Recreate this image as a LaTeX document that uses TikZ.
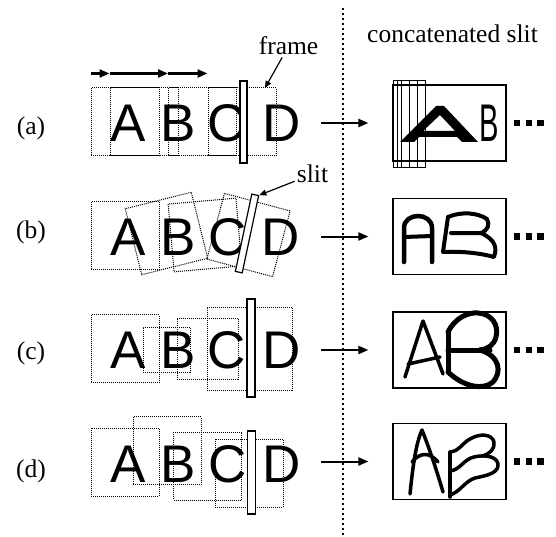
\documentclass[tikz,border=0pt]{standalone}
\usepackage{fontspec}
\setmainfont{Liberation Serif}
\newfontfamily\glyphfont{Liberation Sans}
\usetikzlibrary{arrows.meta}

\begin{document}
\begin{tikzpicture}[
  x=1pt, y=-1pt,
  frame/.style={draw, line width=1pt, dash pattern=on 1pt off 1pt, minimum width=68pt, minimum height=68pt, inner sep=0pt},
  slitbox/.style={draw, fill=white, line width=1.2pt, minimum width=7pt, minimum height=#1, inner sep=0pt},
  glyph/.style={font=\glyphfont\fontsize{53}{60}\selectfont, inner sep=0pt, anchor=base},
  tag/.style={font=\fontsize{25.5}{30}\selectfont, inner sep=2pt, anchor=base},
  resbox/.style={draw, line width=1.2pt, minimum width=113pt, minimum height=76pt, inner sep=0pt},
  flow/.style={line width=2pt, -{Triangle[length=10pt,width=8pt]}},
  motion/.style={line width=2.2pt, -{Triangle[length=10pt,width=8pt]}},
  pointer/.style={line width=1.2pt, -{Triangle[length=7pt,width=6pt]}},
  divider/.style={line width=2pt, dash pattern=on 2.2pt off 2.8pt},
  ink/.style={line width=#1, line cap=round, line join=round},
  ink/.default=4pt,
  dotsq/.style={fill, minimum size=6.5pt, inner sep=0pt}
]
\useasboundingbox (0,0) rectangle (556,537);

% === Row labels and header ===
\node[tag] (la) at (31,135) {(a)};
\node[tag] (lb) at (31,238) {(b)};
\node[tag] (lc) at (31,359) {(c)};
\node[tag] (ld) at (31,477) {(d)};
\node[tag] (hdr) at (452.5,43) {concatenated slit};

% === Divider ===
\coordinate (divtop) at (343,8);
\coordinate (divbot) at (343,535);
\draw[divider] (divtop) -- (divbot);

% === (a) pure translation ===
\node[frame] (a1) at (125,122) {};
\node[frame] (a2) at (144,122) {};
\node[frame] (a3) at (202.5,122) {};
\node[frame] (a4) at (242,122) {};
\draw[motion] ([yshift=14pt]a1.north west) -- ([yshift=14pt]a2.north west);
\draw[motion] ([yshift=14pt]a2.north west) -- ([yshift=14pt]a3.north west);
\draw[motion] ([yshift=14pt]a3.north west) -- ([yshift=14pt]a4.north west);
\node[glyph] (Aa) at (128,142) {A};
\node[glyph] (Ba) at (178,142) {B};
\node[glyph] (Ca) at (227,142) {C};
\node[glyph] (Da) at (282,142) {D};
\node[slitbox=82pt] (sa) at (243.5,122) {};
\node[tag] (framelbl) at (288.5,55) {frame};
\coordinate (frametip) at (265,88);
\draw[pointer] (framelbl) -- (frametip);

% === (b) rotation ===
\node[frame] (b1) at (125,235.5) {};
\node[frame, rotate=14] (b2) at (166.5,233.5) {};
\node[frame, rotate=5] (b3) at (205,235) {};
\node[frame, rotate=-15] (b4) at (248.5,235) {};
\node[glyph] (Ab) at (128,255) {A};
\node[glyph] (Bb) at (178,255) {B};
\node[glyph] (Cb) at (228,255) {C};
\node[glyph] (Db) at (281,255) {D};
\node[slitbox=79pt, rotate=-12] (sb) at (247,233.5) {};
\node[tag] (slitlbl) at (312.5,183) {slit};
\draw[pointer] (slitlbl) -- (sb.north east);

% === (c) zoom ===
\node[frame] (c1) at (125,348.5) {};
\node[frame, minimum width=47pt, minimum height=45pt] (c2) at (166.5,349.5) {};
\node[frame, minimum width=61pt, minimum height=61pt] (c3) at (207.5,348.5) {};
\node[frame, minimum width=85pt, minimum height=83pt] (c4) at (249.5,348.5) {};
\node[glyph] (Ac) at (128,368) {A};
\node[glyph] (Bc) at (178,368) {B};
\node[glyph] (Cc) at (227,368) {C};
\node[glyph] (Dc) at (282,368) {D};
\node[slitbox=98pt, minimum width=8pt] (sc) at (251,348) {};

% === (d) vertical shake ===
\node[frame] (d1) at (125,462) {};
\node[frame] (d2) at (167,450.5) {};
\node[frame] (d3) at (207.5,466) {};
\node[frame] (d4) at (249,473) {};
\node[glyph] (Ad) at (128,482) {A};
\node[glyph] (Bd) at (178,482) {B};
\node[glyph] (Cd) at (228,482) {C};
\node[glyph] (Dd) at (282,482) {D};
\node[slitbox=83pt, minimum width=8pt] (sd) at (251.5,472.5) {};

% === Result boxes ===
\node[resbox] (resa) at (449.5,123) {};
\node[resbox] (resb) at (449.5,236.5) {};
\node[resbox] (resc) at (449.5,350) {};
\node[resbox] (resd) at (449.5,461.5) {};

\draw[flow] ([xshift=-71pt]resa.west) -- ([xshift=-24pt]resa.west);
\draw[flow] ([xshift=-71pt]resb.west) -- ([xshift=-24pt]resb.west);
\draw[flow] ([xshift=-71pt]resc.west) -- ([xshift=-24pt]resc.west);
\draw[flow] ([xshift=-71pt]resd.west) -- ([xshift=-24pt]resd.west);

% continuation marks
\node[dotsq] (ma1) at ([xshift=10.5pt]resa.east) {};
\node[dotsq] (ma2) at ([xshift=22.3pt]resa.east) {};
\node[dotsq] (ma3) at ([xshift=34pt]resa.east) {};
\node[dotsq] (mb1) at ([xshift=10.5pt]resb.east) {};
\node[dotsq] (mb2) at ([xshift=22.3pt]resb.east) {};
\node[dotsq] (mb3) at ([xshift=34pt]resb.east) {};
\node[dotsq] (mc1) at ([xshift=10.5pt]resc.east) {};
\node[dotsq] (mc2) at ([xshift=22.3pt]resc.east) {};
\node[dotsq] (mc3) at ([xshift=34pt]resc.east) {};
\node[dotsq] (md1) at ([xshift=10.5pt]resd.east) {};
\node[dotsq] (md2) at ([xshift=22.3pt]resd.east) {};
\node[dotsq] (md3) at ([xshift=34pt]resd.east) {};

% (a) stacked strips, stretched A, squeezed B
\draw[line width=1pt] (393,81) rectangle (401,168);
\draw[line width=1pt] (397,81) rectangle (409,168);
\draw[line width=1pt] (401,81) rectangle (417,168);
\draw[line width=1pt] (409,81) rectangle (425,168);
\fill[even odd rule] (400,142) -- (436,106) -- (444,106) -- (478,142) -- (462,142) -- (457,137)
  -- (419,137) -- (414,142) -- cycle
  (423,131) -- (440,115) -- (455,131) -- cycle;
\node[glyph, xscale=0.55] (Bra) at (489,142) {B};

% (b) bent strips
\draw[ink=4.5pt] (404,262) -- (404,228) .. controls (404,212) and (432,212) .. (432,228) -- (432,262);
\draw[ink=4pt] (404,237) -- (432,236);
\draw[ink] (448,217) .. controls (462,211) and (478,213) .. (487,219) .. controls (490,225) and (488,230) .. (481,233) -- (451,233);
\draw[ink] (448,217) -- (443,252) .. controls (460,251) and (480,253) .. (494,257)
  .. controls (497,248) and (496,240) .. (481,233);

% (c) scaled strips
\draw[ink=3.5pt] (405,377) -- (423,321) -- (443,374);
\draw[ink=3.5pt] (408,364) -- (440,357);
\draw[ink=5pt] (448,332) -- (448,372);
\draw[ink=5pt] (448,332) .. controls (455,318) and (468,312) .. (478,313) .. controls (492,314) and (499,325) .. (496,337)
  .. controls (494,345) and (488,349) .. (480,350);
\draw[ink=5pt] (448,350) -- (490,350);
\draw[ink=5pt] (480,350) .. controls (500,356) and (502,372) .. (493,382) .. controls (484,390) and (465,388) .. (448,372);

% (d) wavy strips
\draw[ink=3.5pt] (410,494) .. controls (413,465) and (416,443) .. (422,430) .. controls (428,445) and (436,468) .. (443,492);
\draw[ink=3.5pt] (412,462) .. controls (420,452) and (430,452) .. (438,462);
\draw[ink=3.5pt] (450,452) -- (450,497);
\draw[ink=3.5pt] (450,452) .. controls (460,451) and (462,443) .. (470,439) .. controls (480,433) and (492,434) .. (494,442)
  .. controls (495,449) and (490,454) .. (482,456);
\draw[ink=3.5pt] (450,471) .. controls (460,470) and (464,459) .. (474,457) .. controls (486,454) and (499,457) .. (498,466)
  .. controls (497,474) and (484,476) .. (475,478) .. controls (465,481) and (460,492) .. (450,495);

\end{tikzpicture}
\end{document}
